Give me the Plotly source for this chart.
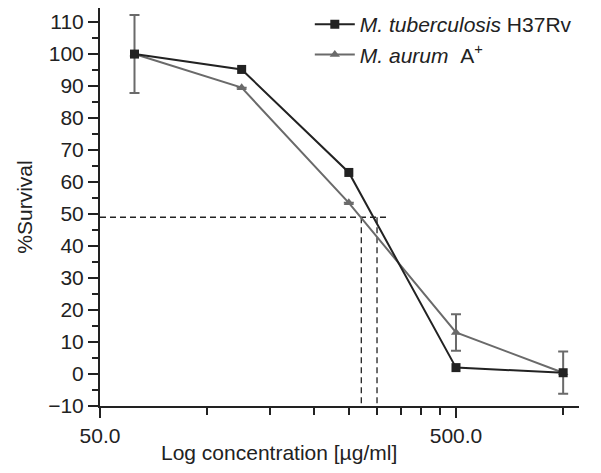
import plotly.graph_objects as go

# ---- data ----
conc = [62.5, 125, 250, 500, 1000]
tb_survival = [100, 95.2, 63, 2, 0.4]
aurum_survival = [100, 89.5, 53.5, 13, 0.4]
aurum_err = [12.2, 0, 0, 5.7, 6.6]

ic50_level = 49
ic50_x = [271, 300]
ic50_hline_end = 320
x_axis_start = 50

y_major_ticks = [-10, 0, 10, 20, 30, 40, 50, 60, 70, 80, 90, 100, 110]
x_major_ticks = [50, 500]
x_major_labels = ["50.0", "500.0"]
x_minor_ticks = [100, 150, 200, 250, 300, 350, 400, 450, 1000]

FONT = "Liberation Sans, Arial, Helvetica, sans-serif"
DARK = "#222222"
GREY = "#6a6a6a"

fig = go.Figure()

# dashed IC50 guides
fig.add_trace(go.Scatter(
    x=[x_axis_start, ic50_hline_end], y=[ic50_level, ic50_level],
    mode="lines", line=dict(color=DARK, width=1.3, dash="6px,4px"),
    showlegend=False, hoverinfo="skip"))
for xv in ic50_x:
    fig.add_trace(go.Scatter(
        x=[xv, xv], y=[ic50_level, -10],
        mode="lines", line=dict(color=DARK, width=1.3, dash="6px,4px"),
        showlegend=False, hoverinfo="skip"))

fig.add_trace(go.Scatter(
    x=conc, y=aurum_survival, mode="lines+markers",
    name="<i>M. aurum</i>\u00a0\u00a0A<sup>+</sup>",
    line=dict(color=GREY, width=2),
    marker=dict(symbol="triangle-up", size=9, color=GREY),
    error_y=dict(type="data", array=aurum_err, visible=True,
                 color=GREY, thickness=2, width=5),
    legendrank=2))

fig.add_trace(go.Scatter(
    x=conc, y=tb_survival, mode="lines+markers",
    name="<i>M. tuberculosis</i> H37Rv",
    line=dict(color=DARK, width=2),
    marker=dict(symbol="square", size=9, color=DARK),
    legendrank=1))

fig.update_layout(
    width=601, height=473,
    margin=dict(l=92, r=30, t=0, b=75, autoexpand=False),
    paper_bgcolor="white", plot_bgcolor="white",
    font=dict(family=FONT, size=21, color=DARK),
    showlegend=True,
    legend=dict(x=0.438, y=1.01, xanchor="left", yanchor="top",
                bgcolor="rgba(0,0,0,0)", font=dict(size=21),
                tracegroupgap=0, itemwidth=40),
    xaxis=dict(
        type="log", range=[1.69897, 3.0445], automargin=False,
        showline=True, linecolor=DARK, linewidth=2,
        showgrid=False, zeroline=False,
        tickmode="array", tickvals=x_major_ticks, ticktext=x_major_labels,
        ticks="outside", ticklen=10, tickwidth=2, tickcolor=DARK,
        minor=dict(tickmode="array", tickvals=x_minor_ticks, ticks="outside",
                   ticklen=7, tickwidth=2, tickcolor=DARK, showgrid=False),
        tickfont=dict(size=21),
    ),
    yaxis=dict(
        range=[-10, 114.4], automargin=False,
        showline=True, linecolor=DARK, linewidth=2,
        showgrid=False, zeroline=False,
        tickmode="array", tickvals=y_major_ticks,
        ticks="outside", ticklen=10, tickwidth=2, tickcolor=DARK,
        minor=dict(dtick=5, tick0=0, ticks="outside", ticklen=6,
                   tickwidth=2, tickcolor=DARK, showgrid=False),
        tickfont=dict(size=21),
        title=dict(text="%Survival", font=dict(size=21), standoff=10),
    ),
    annotations=[dict(
        text="Log concentration [µg/ml]", xref="paper", yref="paper",
        x=0.3727, y=-0.118, xanchor="center", yanchor="middle",
        showarrow=False, font=dict(size=21))],
)

fig.write_html("out.html")
